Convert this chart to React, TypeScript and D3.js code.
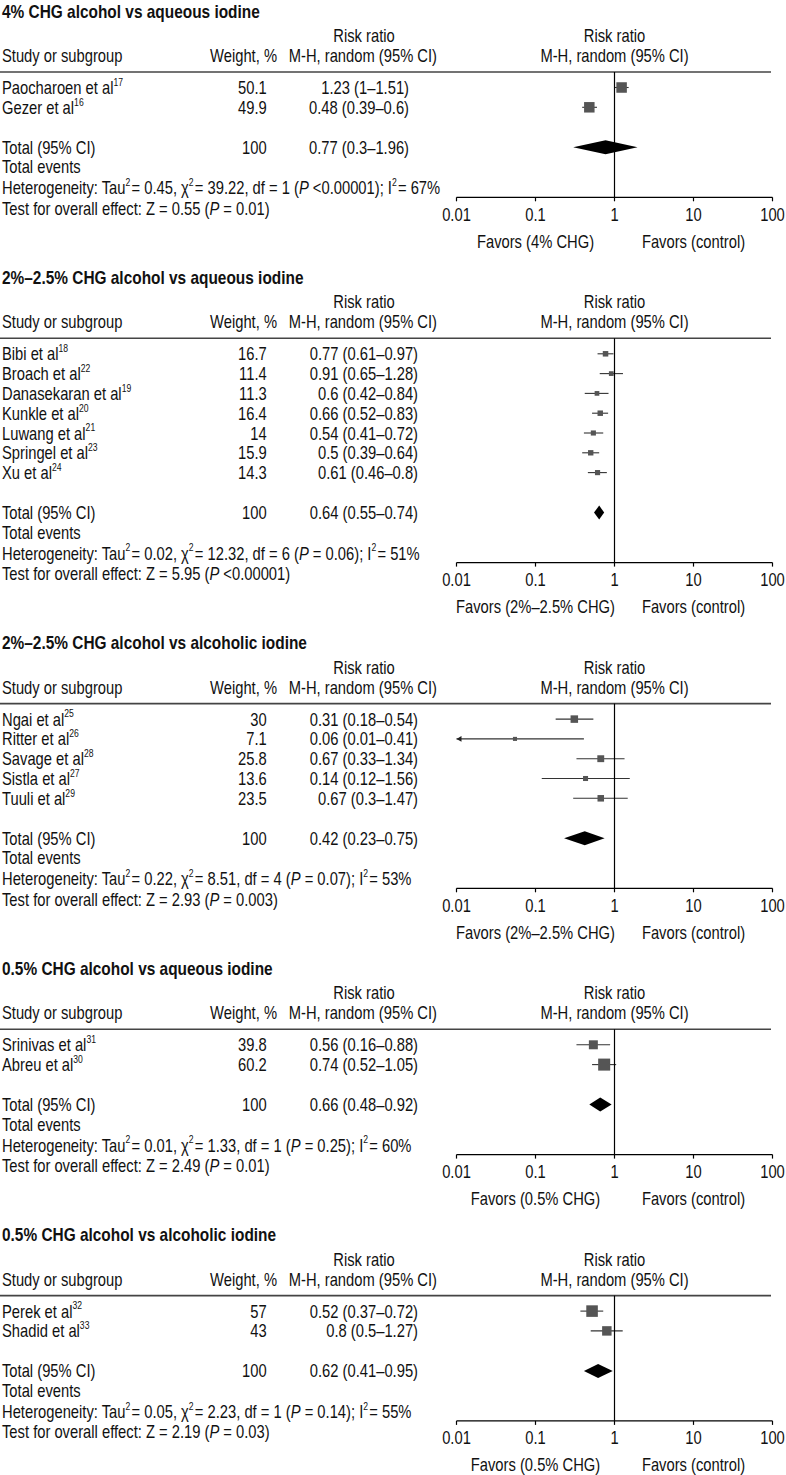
import React from "react";
import * as d3 from "d3";

// ---------- DATA ----------
const panelTitles = [
  "4% CHG alcohol vs aqueous iodine",
  "2%–2.5% CHG alcohol vs aqueous iodine",
  "2%–2.5% CHG alcohol vs alcoholic iodine",
  "0.5% CHG alcohol vs aqueous iodine",
  "0.5% CHG alcohol vs alcoholic iodine",
];
const favorsLeft = [
  "Favors (4% CHG)",
  "Favors (2%–2.5% CHG)",
  "Favors (2%–2.5% CHG)",
  "Favors (0.5% CHG)",
  "Favors (0.5% CHG)",
];
const tickValues = [0.01, 0.1, 1, 10, 100];
const tickLabels = ["0.01", "0.1", "1", "10", "100"];

// Panel 1
const p1Names = ["Paocharoen et al", "Gezer et al"];
const p1Refs = ["17", "16"];
const p1Weights = ["50.1", "49.9"];
const p1Labels = ["1.23 (1–1.51)", "0.48 (0.39–0.6)"];
const p1RR = [1.23, 0.48];
const p1Lo = [1.0, 0.39];
const p1Hi = [1.51, 0.6];
const p1W = [50.1, 49.9];

// Panel 2
const p2Names = ["Bibi et al", "Broach et al", "Danasekaran et al", "Kunkle et al", "Luwang et al", "Springel et al", "Xu et al"];
const p2Refs = ["18", "22", "19", "20", "21", "23", "24"];
const p2Weights = ["16.7", "11.4", "11.3", "16.4", "14", "15.9", "14.3"];
const p2Labels = ["0.77 (0.61–0.97)", "0.91 (0.65–1.28)", "0.6 (0.42–0.84)", "0.66 (0.52–0.83)", "0.54 (0.41–0.72)", "0.5 (0.39–0.64)", "0.61 (0.46–0.8)"];
const p2RR = [0.77, 0.91, 0.6, 0.66, 0.54, 0.5, 0.61];
const p2Lo = [0.61, 0.65, 0.42, 0.52, 0.41, 0.39, 0.46];
const p2Hi = [0.97, 1.28, 0.84, 0.83, 0.72, 0.64, 0.8];
const p2W = [16.7, 11.4, 11.3, 16.4, 14, 15.9, 14.3];

// Panel 3
const p3Names = ["Ngai et al", "Ritter et al", "Savage et al", "Sistla et al", "Tuuli et al"];
const p3Refs = ["25", "26", "28", "27", "29"];
const p3Weights = ["30", "7.1", "25.8", "13.6", "23.5"];
const p3Labels = ["0.31 (0.18–0.54)", "0.06 (0.01–0.41)", "0.67 (0.33–1.34)", "0.14 (0.12–1.56)", "0.67 (0.3–1.47)"];
const p3RR = [0.31, 0.055, 0.67, 0.43, 0.67];
const p3Lo = [0.18, 0.005, 0.33, 0.12, 0.3];
const p3Hi = [0.54, 0.41, 1.34, 1.56, 1.47];
const p3W = [30, 7.1, 25.8, 13.6, 23.5];

// Panel 4
const p4Names = ["Srinivas et al", "Abreu et al"];
const p4Refs = ["31", "30"];
const p4Weights = ["39.8", "60.2"];
const p4Labels = ["0.56 (0.16–0.88)", "0.74 (0.52–1.05)"];
const p4RR = [0.54, 0.74];
const p4Lo = [0.33, 0.52];
const p4Hi = [0.88, 1.05];
const p4W = [39.8, 60.2];

// Panel 5
const p5Names = ["Perek et al", "Shadid et al"];
const p5Refs = ["32", "33"];
const p5Weights = ["57", "43"];
const p5Labels = ["0.52 (0.37–0.72)", "0.8 (0.5–1.27)"];
const p5RR = [0.52, 0.8];
const p5Lo = [0.37, 0.5];
const p5Hi = [0.72, 1.27];
const p5W = [57, 43];

// Totals
const totalLabels = ["0.77 (0.3–1.96)", "0.64 (0.55–0.74)", "0.42 (0.23–0.75)", "0.66 (0.48–0.92)", "0.62 (0.41–0.95)"];
const totalRR = [0.77, 0.64, 0.42, 0.66, 0.62];
const totalLo = [0.3, 0.55, 0.23, 0.48, 0.41];
const totalHi = [1.96, 0.74, 0.75, 0.92, 0.95];

// Heterogeneity / overall effect
const hetTau = ["0.45", "0.02", "0.22", "0.01", "0.05"];
const hetChi = ["39.22", "12.32", "8.51", "1.33", "2.23"];
const hetDf = ["1", "6", "4", "1", "1"];
const hetP = [" <0.00001", " = 0.06", " = 0.07", " = 0.25", " = 0.14"];
const hetI2 = ["67%", "51%", "53%", "60%", "55%"];
const testZ = ["0.55", "5.95", "2.93", "2.49", "2.19"];
const testP = [" = 0.01", " <0.00001", " = 0.003", " = 0.01", " = 0.03"];

const panels = [
  { names: p1Names, refs: p1Refs, weights: p1Weights, labels: p1Labels, rr: p1RR, lo: p1Lo, hi: p1Hi, w: p1W },
  { names: p2Names, refs: p2Refs, weights: p2Weights, labels: p2Labels, rr: p2RR, lo: p2Lo, hi: p2Hi, w: p2W },
  { names: p3Names, refs: p3Refs, weights: p3Weights, labels: p3Labels, rr: p3RR, lo: p3Lo, hi: p3Hi, w: p3W },
  { names: p4Names, refs: p4Refs, weights: p4Weights, labels: p4Labels, rr: p4RR, lo: p4Lo, hi: p4Hi, w: p4W },
  { names: p5Names, refs: p5Refs, weights: p5Weights, labels: p5Labels, rr: p5RR, lo: p5Lo, hi: p5Hi, w: p5W },
];

// ---------- LAYOUT ----------
const W = 786;
const H = 1475;
const FONT = "'Liberation Sans', Arial, sans-serif";
const FS = 18;
const SX = 0.82; // horizontal condensing of the sans font
const ROW = 19.8;
const FIRST_RULE = 72;
const PANEL_GAP = 141;
const x = d3.scaleLog().domain([0.01, 100]).range([456.5, 772.5]);
const sq = d3.scaleLinear().domain([0, 60]).range([3, 12]);
const ciRight = [409, 418, 418, 418, 418];

type TProps = {
  x: number;
  y: number;
  anchor?: "start" | "middle" | "end";
  size?: number;
  bold?: boolean;
  children?: React.ReactNode;
};
function T({ x, y, anchor = "start", size = FS, bold = false, children }: TProps) {
  return (
    <text
      transform={`translate(${x},${y}) scale(${SX},1)`}
      textAnchor={anchor}
      dominantBaseline="central"
      fontSize={size}
      fontWeight={bold ? "bold" : "normal"}
    >
      {children}
    </text>
  );
}

const Sup = ({ v }: { v: string }) => (
  <>
    <tspan fontSize={10.5} dy={-6}>{v}</tspan>
    <tspan dy={6}>{"\u200A"}</tspan>
  </>
);

function Panel({ k, top }: { k: number; top: number }) {
  const p = panels[k];
  const rowY = (i: number) => top + 15.5 + i * ROW;
  const last = rowY(p.names.length - 1);
  const totalY = last + 40;
  const axisY = last + 90;
  const x1 = x(1);
  const tr = totalRR[k];
  const dh = 7;
  const diamond = [
    [x(totalLo[k]), totalY],
    [x(tr), totalY - dh],
    [x(totalHi[k]), totalY],
    [x(tr), totalY + dh],
  ];
  return (
    <g>
      <T x={2} y={top - 61} size={18.8} bold>{panelTitles[k]}</T>
      {/* table headers */}
      <T x={364} y={top - 36.5} anchor="middle">Risk ratio</T>
      <T x={2} y={top - 16.5}>Study or subgroup</T>
      <T x={277} y={top - 16.5} anchor="end">Weight, %</T>
      <T x={437} y={top - 16.5} anchor="end">M-H, random (95% CI)</T>
      <T x={x1} y={top - 36.5} anchor="middle">Risk ratio</T>
      <T x={x1} y={top - 16.5} anchor="middle">M-H, random (95% CI)</T>
      <line x1={0} x2={771} y1={top} y2={top} stroke="#444" strokeWidth={1.6} />
      {/* rows */}
      {p.names.map((n, i) => {
        const y = rowY(i);
        const s = sq(p.w[i]);
        const clipped = p.lo[i] < 0.01;
        const xl = clipped ? x(0.01) : x(p.lo[i]);
        return (
          <g key={n}>
            <T x={2} y={y}>
              {n}
              <tspan fontSize={10.5} dy={-6}>{p.refs[i]}</tspan>
            </T>
            <T x={266.7} y={y} anchor="end">{p.weights[i]}</T>
            <T x={ciRight[k]} y={y} anchor="end">{p.labels[i]}</T>
            <line x1={xl} x2={x(p.hi[i])} y1={y} y2={y} stroke="#333" strokeWidth={1.1} />
            {clipped && (
              <path d={`M${xl},${y} L${xl + 5},${y - 2.8} L${xl + 5},${y + 2.8} Z`} fill="#222" />
            )}
            <rect x={x(p.rr[i]) - s / 2} y={y - s / 2} width={s} height={s} fill="#555" />
          </g>
        );
      })}
      {/* total */}
      <T x={2} y={totalY}>Total (95% CI)</T>
      <T x={266.7} y={totalY} anchor="end">100</T>
      <T x={ciRight[k]} y={totalY} anchor="end">{totalLabels[k]}</T>
      <path d={d3.line()(diamond as [number, number][]) + "Z"} fill="#000" />
      <T x={2} y={last + 59.5}>Total events</T>
      <T x={2} y={last + 80.5}>
        {"Heterogeneity: Tau"}
        <Sup v="2" />
        {`= ${hetTau[k]}, χ`}
        <Sup v="2" />
        {`= ${hetChi[k]}, df = ${hetDf[k]} (`}
        <tspan fontStyle="italic">P</tspan>
        {`${hetP[k]}); I`}
        <Sup v="2" />
        {`= ${hetI2[k]}`}
      </T>
      <T x={2} y={last + 101}>
        {`Test for overall effect: Z = ${testZ[k]} (`}
        <tspan fontStyle="italic">P</tspan>
        {`${testP[k]})`}
      </T>
      {/* reference line + axis */}
      <line x1={x1} x2={x1} y1={top} y2={axisY} stroke="#000" strokeWidth={1.2} />
      <line x1={x(0.01)} x2={x(100)} y1={axisY} y2={axisY} stroke="#000" strokeWidth={1.2} />
      {tickValues.map((t, i) => (
        <g key={t}>
          <line x1={x(t)} x2={x(t)} y1={axisY} y2={axisY + 4} stroke="#000" strokeWidth={1.2} />
          <T x={x(t)} y={axisY + 17} anchor="middle">{tickLabels[i]}</T>
        </g>
      ))}
      <T x={(x(0.01) + x1) / 2} y={axisY + 44} anchor="middle">{favorsLeft[k]}</T>
      <T x={(x(100) + x1) / 2} y={axisY + 44} anchor="middle">Favors (control)</T>
    </g>
  );
}

export default function App() {
  const tops: number[] = [];
  let t = FIRST_RULE;
  panels.forEach((p) => {
    tops.push(t);
    t = t + 15.5 + (p.names.length - 1) * ROW + 90 + PANEL_GAP;
  });
  return (
    <svg
      width={W}
      height={H}
      viewBox={`0 0 ${W} ${H}`}
      style={{ position: "absolute", left: 0, top: 0, background: "#fff" }}
      fontFamily={FONT}
      fontSize={FS}
      fill="#111"
    >
      <rect width={W} height={H} fill="#fff" />
      {panels.map((_, k) => (
        <Panel key={k} k={k} top={tops[k]} />
      ))}
    </svg>
  );
}
